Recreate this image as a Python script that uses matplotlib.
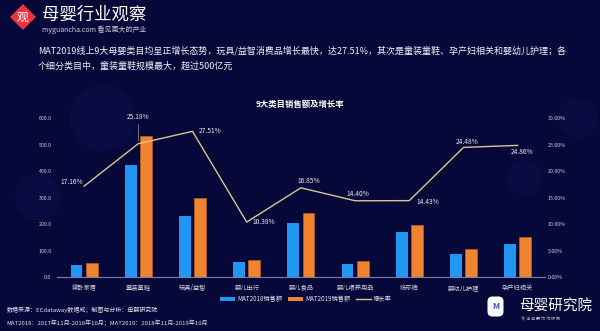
import numpy as np
import matplotlib.pyplot as plt
from matplotlib.patches import Ellipse, RegularPolygon, FancyBboxPatch
from matplotlib.lines import Line2D
from matplotlib.patches import Patch

plt.rcParams['font.family'] = ['Noto Sans CJK SC', 'DejaVu Sans']

# =================== DATA ===================
categories = ["寝卧家居", "童装童鞋", "玩具/益智", "婴儿出行", "婴儿食品",
              "婴儿喂养用品", "纸尿裤", "婴幼儿护理", "孕产妇相关"]
sales_2018 = [47, 423, 231, 58, 203, 51, 171, 86, 125]
sales_2019 = [53, 532, 297, 66, 241, 59, 197, 107, 152]
growth = [17.16, 25.18, 27.51, 10.38, 16.85, 14.40, 14.43, 24.48, 24.86]
left_ticks = [0, 100, 200, 300, 400, 500, 600]
right_ticks = [0, 5, 10, 15, 20, 25, 30]

# label offsets in pixels (dx, dy, ha)
label_pos = [(-1, 4, "right"), (0, 27, "center"), (6, 0, "left"), (6, 0, "left"),
             (8, 7, "center"), (3, 7, "center"), (7, -1, "left"), (4, 5, "center"),
             (4, -7, "center")]

BG = "#07083a"
BLUE = "#2196f3"
ORANGE = "#f0832f"
LINE = "#d8c690"
W, H = 600, 331

fig = plt.figure(figsize=(6.0, 3.31), dpi=100)
fig.patch.set_facecolor(BG)

# background layer for decorative faint circles
bg = fig.add_axes([0, 0, 1, 1], zorder=-5)
bg.set_xlim(0, W)
bg.set_ylim(H, 0)
bg.set_aspect("equal")
bg.axis("off")
for cx, cy, r in [(103, 118, 33), (38, 197, 23), (578, 118, 20), (525, 178, 18)]:
    bg.add_patch(Ellipse((cx, cy), 2 * r, 2 * r, facecolor="#0c0f4a",
                         edgecolor="none", alpha=0.6))

ax = fig.add_axes([0.095, 0.163, 0.813, 0.480])
ax.set_facecolor("none")
x = np.arange(len(categories))
w = 0.22
ax.bar(x - w / 2 - 0.03, sales_2018, width=w, color=BLUE, zorder=2)
ax.bar(x + w / 2 + 0.03, sales_2019, width=w, color=ORANGE, edgecolor="#c86a20",
       linewidth=0.4, zorder=2)
ax.set_xlim(-0.5, len(categories) - 0.5)
ax.set_ylim(0, 600)
ax.set_yticks(left_ticks)
ax.set_yticklabels([f"{v:.1f}" for v in left_ticks])
ax.set_xticks(x)
ax.set_xticklabels(categories)
ax.tick_params(axis="y", length=0, labelsize=3.8, labelcolor="#d0d0dc", pad=4)
ax.tick_params(axis="x", length=0, labelsize=4.5, labelcolor="#d0d0dc", pad=5)
for s in ["top", "right", "left"]:
    ax.spines[s].set_visible(False)
ax.spines["bottom"].set_color("#7a7fa8")
ax.spines["bottom"].set_linewidth(0.8)

ax2 = ax.twinx()
ax2.plot(x, growth, color=LINE, linewidth=1.0, zorder=3)
ax2.set_ylim(0, 30)
ax2.set_yticks(right_ticks)
ax2.set_yticklabels([f"{v:.2f}%" for v in right_ticks])
ax2.tick_params(axis="y", length=0, labelsize=3.8, labelcolor="#d0d0dc", pad=2)
for s in ["top", "right", "left", "bottom"]:
    ax2.spines[s].set_visible(False)

for i, g in enumerate(growth):
    dx, dy, ha = label_pos[i]
    ax2.annotate(f"{g:.2f}%", (x[i], g), xytext=(dx * 0.72, dy * 0.72),
                 textcoords="offset points", ha=ha, va="center", fontsize=4.8,
                 color="#e8e8f0", zorder=4)
# leader line for 25.18%
ax2.annotate("", (x[1], growth[1]), xytext=(0, 22 * 0.72), textcoords="offset points",
             arrowprops=dict(arrowstyle="-", color="#9a9ab0", linewidth=0.5))

# title of chart
fig.text(0.5, 0.686, "9大类目销售额及增长率", ha="center", va="center",
         fontsize=6, fontweight="bold", color="white")

# legend
handles = [Patch(facecolor=BLUE, label="MAT2018销售额"),
           Patch(facecolor=ORANGE, label="MAT2019销售额"),
           Line2D([0], [0], color=LINE, linewidth=1, label="增长率")]
leg = fig.legend(handles=handles, loc="center", bbox_to_anchor=(0.51, 0.097), ncol=3,
                 frameon=False, fontsize=4.5, handlelength=2.4, handleheight=0.7,
                 columnspacing=0.8, handletextpad=0.4)
for t in leg.get_texts():
    t.set_color("#e0e0ea")

# header text
fig.text(0.063, 0.848, "MAT2019线上9大母婴类目均呈正增长态势，玩具/益智消费品增长最快，达27.51%，其次是童装童鞋、孕产妇相关和婴幼儿护理；各",
         ha="left", va="center", fontsize=6.5, color="#f0f0f5")
fig.text(0.063, 0.800, "个细分类目中，童装童鞋规模最大，超过500亿元",
         ha="left", va="center", fontsize=6.5, color="#f0f0f5")

# top-left logo
bg.add_patch(RegularPolygon((23, 17), 4, radius=13, orientation=0,
                            facecolor="#e8343c", edgecolor="none"))
bg.text(23, 17.5, "观", ha="center", va="center", fontsize=8.5, color="white")
bg.text(42, 15, "母婴行业观察", ha="left", va="center", fontsize=12.5, color="white")
bg.text(42, 30, "myguancha.com 看见更大的产业", ha="left", va="center",
        fontsize=5, color="#c8c8d8")

# footnotes
fig.text(0.011, 0.063, "数据来源：ECdataway数据威；制图与分析：母婴研究院", ha="left",
         va="center", fontsize=4.3, color="#e0e0ea")
fig.text(0.011, 0.024, "MAT2018：2017年11月-2018年10月；MAT2019：2018年11月-2019年10月",
         ha="left", va="center", fontsize=4.3, color="#e0e0ea")

# bottom-right logo
bg.add_patch(FancyBboxPatch((488, 297), 15, 19,
                            boxstyle="round,pad=0.5,rounding_size=5",
                            facecolor="white", edgecolor="none"))
bg.text(495.5, 306.5, "M", ha="center", va="center", fontsize=6,
        fontweight="bold", color="#2a55c8")
bg.text(519, 306, "母婴研究院", ha="left", va="center", fontsize=10.5, color="white")
bg.text(521, 318, "专 注 母 婴 市 场 研 究", ha="left", va="center",
        fontsize=3.0, color="#b0b0c8")

fig.savefig("out.png", dpi=100, facecolor=BG)
